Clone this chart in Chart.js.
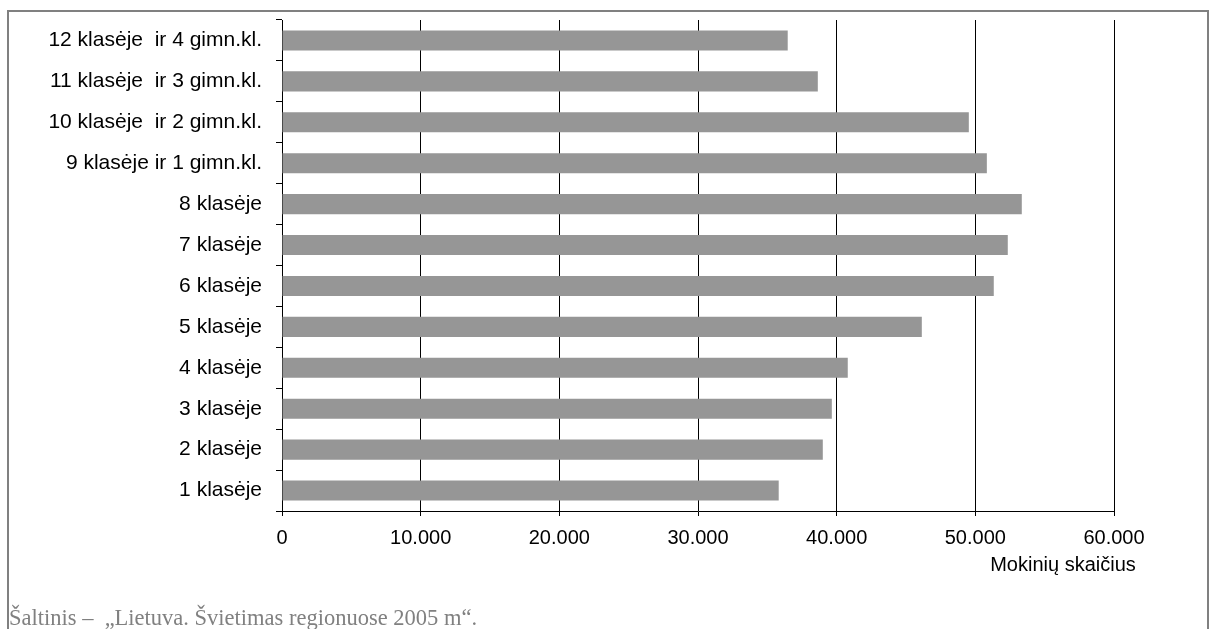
<!DOCTYPE html>
<html>
<head>
<meta charset="utf-8">
<script src="https://cdn.jsdelivr.net/npm/chart.js@4.4.0/dist/chart.umd.min.js"></script>
<style>
  html, body { margin: 0; padding: 0; background: #fff; overflow: hidden; }
  #frame { position: absolute; left: 7px; top: 10px; width: 1198px; height: 640px; border: 2px solid #808080; }
  #chart { position: absolute; left: 0; top: 0; }
  #source { position: absolute; left: 9px; top: 605px; font-family: "Liberation Serif", serif; font-size: 22.5px; color: #808080; white-space: pre; }
</style>
</head>
<body>
<div id="frame"></div>
<canvas id="chart" width="1213" height="629"></canvas>
<div id="source">Šaltinis –  „Lietuva. Švietimas regionuose 2005 m“.</div>
<script>
// klasės (nuo viršaus į apačią)
const classes = [
    '12 klasėje  ir 4 gimn.kl.',
    '11 klasėje  ir 3 gimn.kl.',
    '10 klasėje  ir 2 gimn.kl.',
    '9 klasėje ir 1 gimn.kl.',
    '8 klasėje',
    '7 klasėje',
    '6 klasėje',
    '5 klasėje',
    '4 klasėje',
    '3 klasėje',
    '2 klasėje',
    '1 klasėje'
];
const pupils = [36470, 38640, 49530, 50830, 53350, 52340, 51330, 46140, 40800, 39650, 39000, 35820];
const axisTitle = 'Mokinių skaičius';

const fontFamily = '"Liberation Sans", Arial, sans-serif';

const titlePlugin = {
    id: 'axisTitle',
    afterDraw(chart) {
        const x = chart.scales.x;
        const ctx = chart.ctx;
        ctx.save();
        ctx.font = '20px ' + fontFamily;
        ctx.fillStyle = '#000';
        ctx.textAlign = 'center';
        ctx.textBaseline = 'middle';
        ctx.fillText(axisTitle, x.getPixelForValue(60000) - 51, x.bottom - 64);
        ctx.restore();
    }
};

const ctx = document.getElementById('chart').getContext('2d');
new Chart(ctx, {
    type: 'bar',
    data: {
        labels: classes,
        datasets: [{
            data: pupils,
            backgroundColor: '#969696',
            borderWidth: 0,
            categoryPercentage: 1,
            barPercentage: 0.49
        }]
    },
    options: {
        indexAxis: 'y',
        responsive: false,
        animation: false,
        devicePixelRatio: 1,
        layout: { padding: { top: 20, right: 99, left: 0, bottom: 0 } },
        plugins: {
            legend: { display: false },
            tooltip: { enabled: false }
        },
        scales: {
            x: {
                min: 0,
                max: 60000,
                afterFit: (scale) => {
                    scale.height = 118;
                    scale.paddingLeft = 0;
                    scale.paddingRight = 0;
                },
                ticks: {
                    stepSize: 10000,
                    color: '#000',
                    font: { family: fontFamily, size: 20 },
                    padding: 10,
                    maxRotation: 0,
                    callback: (v) => v.toString().replace(/\B(?=(\d{3})+(?!\d))/g, '.')
                },
                grid: { color: '#000', lineWidth: 1, tickLength: 5 },
                border: { color: '#000', width: 1 }
            },
            y: {
                afterFit: (scale) => {
                    scale.width = 282;
                    scale.paddingTop = 0;
                    scale.paddingBottom = 0;
                },
                ticks: { color: '#000', font: { family: fontFamily, size: 21 }, padding: 14 },
                grid: { offset: true, drawOnChartArea: false, color: '#000', tickLength: 6 },
                border: { color: '#000', width: 1 }
            }
        }
    },
    plugins: [titlePlugin]
});
</script>
</body>
</html>
